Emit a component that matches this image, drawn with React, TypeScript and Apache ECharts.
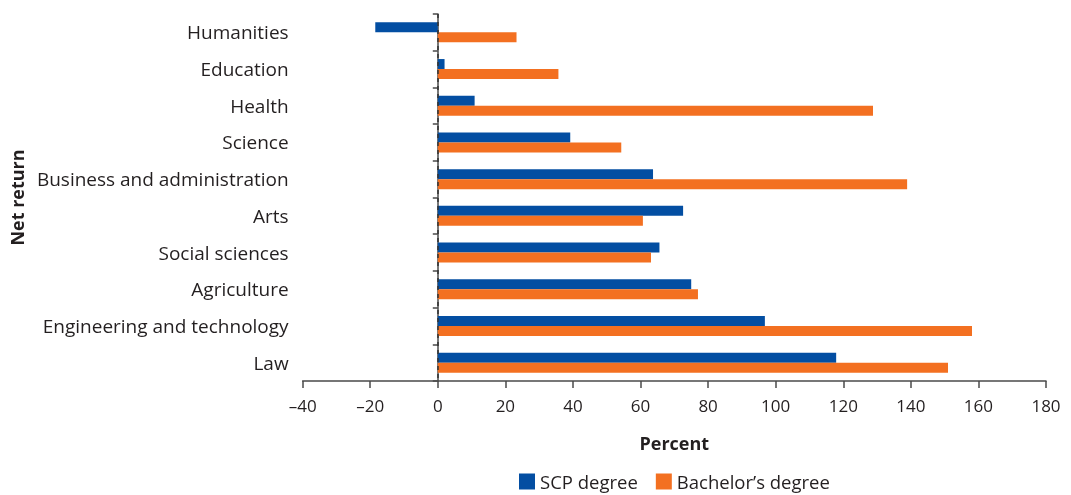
import React, { useEffect, useRef } from "react";
import * as echarts from "echarts";

const categories = [
  "Humanities",
  "Education",
  "Health",
  "Science",
  "Business and administration",
  "Arts",
  "Social sciences",
  "Agriculture",
  "Engineering and technology",
  "Law",
];
const scpDegree = [-18.5, 2, 10.9, 39.2, 63.7, 72.6, 65.6, 75, 96.8, 117.9];
const bachelorsDegree = [23.3, 35.7, 128.8, 54.3, 138.9, 60.7, 63.1, 77, 158.1, 151];
const seriesNames = ["SCP degree", "Bachelor\u2019s degree"];

const FONT = "'Open Sans', 'Noto Sans', sans-serif";
const TEXT = "#231f20";
const AXIS = "#4a4a4a";

export default function App() {
  const ref = useRef<HTMLDivElement>(null);
  useEffect(() => {
    if (!ref.current) return;
    const chart = echarts.init(ref.current, null, { renderer: "svg" });
    chart.setOption({
      animation: false,
      textStyle: { fontFamily: FONT },
      grid: { left: 302, right: 25, top: 14, bottom: 114 },
      legend: {
        top: 472,
        left: 519,
        padding: 0,
        itemWidth: 16,
        itemHeight: 16,
        itemGap: 18,
        icon: "rect",
        textStyle: { fontSize: 18.5, lineHeight: 17, color: TEXT, fontFamily: FONT },
        data: seriesNames,
      },
      xAxis: {
        type: "value",
        min: -40,
        max: 180,
        interval: 20,
        name: "Percent",
        nameLocation: "middle",
        nameGap: 53,
        nameTextStyle: { fontSize: 18, fontWeight: "bold", color: TEXT, fontFamily: FONT },
        axisLine: { show: true, lineStyle: { color: AXIS, width: 1.5 } },
        axisTick: { show: true, length: 7, lineStyle: { color: AXIS, width: 1.5 } },
        axisLabel: {
          fontSize: 17,
          color: TEXT,
          margin: 16,
          formatter: (v: number) => String(v).replace("-", "\u2013"),
        },
        splitLine: { show: false },
      },
      yAxis: {
        type: "category",
        inverse: true,
        data: categories,
        name: "Net return",
        nameLocation: "middle",
        nameGap: 276,
        nameRotate: 90,
        nameTextStyle: { fontSize: 18, fontWeight: "bold", color: TEXT, fontFamily: FONT },
        axisLine: { show: true, lineStyle: { color: AXIS, width: 1.5 } },
        axisTick: { show: true, length: 5, lineStyle: { color: AXIS, width: 1.5 } },
        axisLabel: { fontSize: 19, color: TEXT, margin: 14 },
      },
      series: [
        {
          name: seriesNames[0],
          type: "bar",
          data: scpDegree,
          barWidth: 10,
          barGap: "0%",
          itemStyle: { color: "#034ea2" },
          markLine: {
            silent: true,
            symbol: "none",
            label: { show: false },
            lineStyle: { color: "#333", type: [4, 4], width: 1.5 },
            data: [{ xAxis: 0 }],
          },
        },
        {
          name: seriesNames[1],
          type: "bar",
          data: bachelorsDegree,
          barWidth: 10,
          barGap: "0%",
          itemStyle: { color: "#f37021" },
        },
      ],
    });
    return () => chart.dispose();
  }, []);
  return (
    <div
      ref={ref}
      style={{ position: "fixed", left: 0, top: 0, width: 1071, height: 495 }}
    />
  );
}
